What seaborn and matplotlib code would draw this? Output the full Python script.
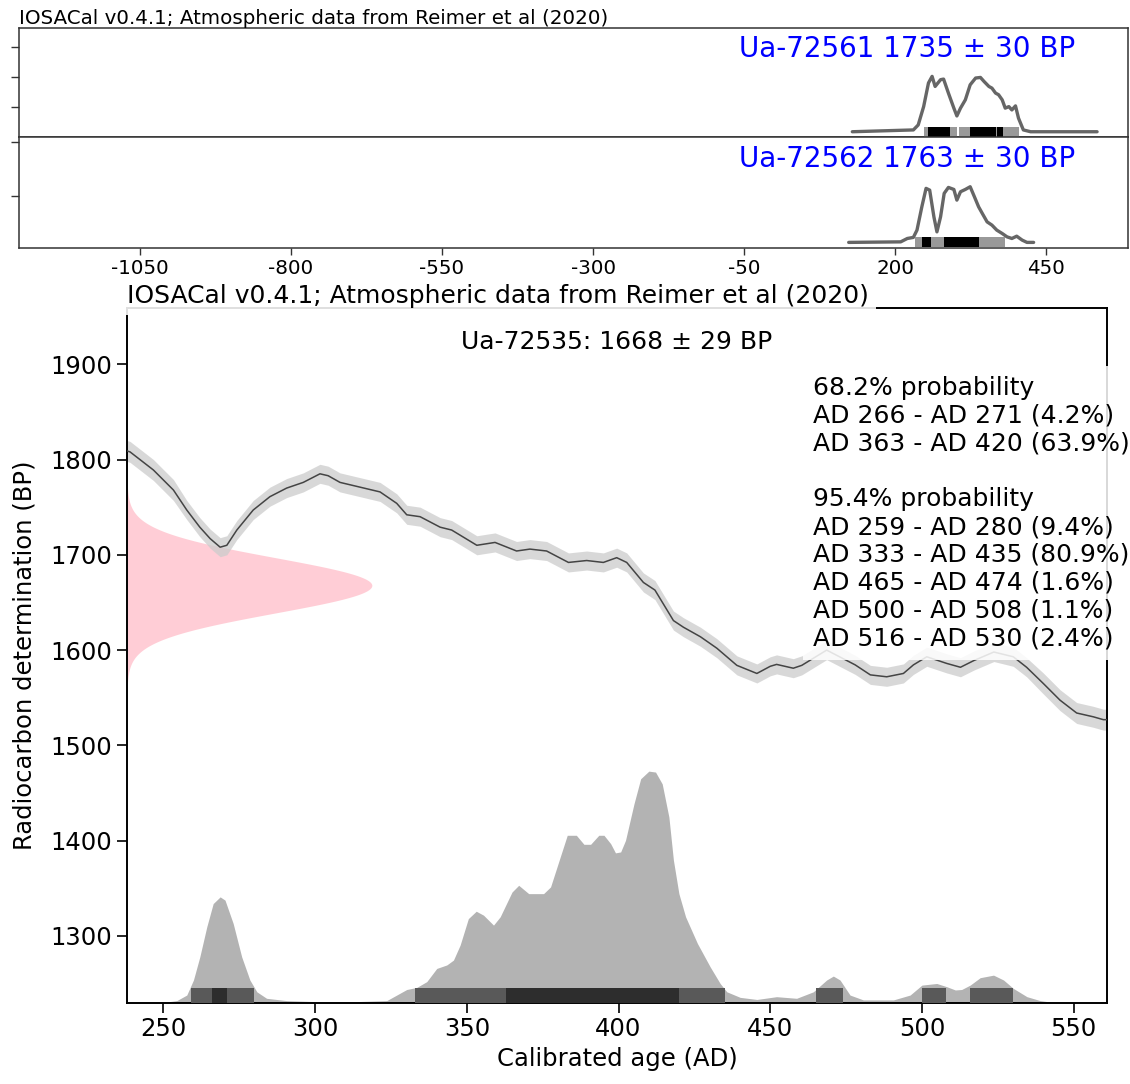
import numpy as np
import matplotlib
matplotlib.use("Agg")
import matplotlib.pyplot as plt
import seaborn as sns

sns.set_theme(style="ticks")
plt.rcParams["font.family"] = ["DejaVu Sans"]
plt.rcParams["axes.unicode_minus"] = False
plt.rcParams["text.color"] = "black"
plt.rcParams["axes.labelcolor"] = "black"
plt.rcParams["xtick.color"] = "black"
plt.rcParams["ytick.color"] = "black"

TITLE = "IOSACal v0.4.1; Atmospheric data from Reimer et al (2020)"

# ---------------- multi-date panels ----------------
dates_multi = ["Ua-72561", "Ua-72562"]
ages_multi = [1735, 1763]
errors_multi = [30, 30]

ua72561_years = [129, 230, 238, 247, 255, 261, 266, 275, 280, 288, 297, 302, 308,
                 316, 324, 333, 341, 347, 355, 360, 366, 371, 377, 382, 388, 393,
                 399, 404, 412, 424, 534]
ua72561_prob = [0.00037, 0.00049, 0.00082, 0.00204, 0.00361, 0.00405, 0.00338,
                0.00383, 0.00387, 0.00294, 0.00194, 0.00142, 0.00194, 0.00249,
                0.00349, 0.00394, 0.00398, 0.00371, 0.00338, 0.00327, 0.00294,
                0.00283, 0.00249, 0.00194, 0.00204, 0.00182, 0.00209, 0.00127,
                0.00049, 0.00037, 0.00037]
ua72561_95 = [(248, 302), (305, 404)]
ua72561_68 = [(254, 290), (323, 367), (368, 378)]

ua72562_years = [123, 209, 220, 230, 236, 244, 251, 257, 264, 269, 275, 281, 288,
                 297, 302, 308, 316, 324, 331, 338, 344, 352, 360, 368, 377, 385,
                 393, 401, 410, 418, 429]
ua72562_prob = [0.00055, 0.00059, 0.00084, 0.00092, 0.00146, 0.00318, 0.00455,
                0.00442, 0.00244, 0.00133, 0.00244, 0.00418, 0.00462, 0.00447,
                0.00368, 0.00430, 0.00447, 0.00467, 0.00393, 0.00318, 0.00270,
                0.00207, 0.00183, 0.00146, 0.00121, 0.00096, 0.00084, 0.00101,
                0.00072, 0.00055, 0.00055]
ua72562_95 = [(233, 381)]
ua72562_68 = [(245, 260), (280, 338)]

multi_xticks = [-1050, -800, -550, -300, -50, 200, 450]

# ---------------- single calibration ----------------
sample = "Ua-72535"
c14_age = 1668
c14_err = 29

# IntCal20 atmospheric curve (AD, BP, 1 sigma)
curve_year = [238, 239, 246.7, 253.3, 257.7, 262, 265.4, 268.7, 270.9, 274.2, 279.6,
              285.1, 290.6, 296.1, 301.6, 304.3, 308.2, 314.8, 321.4, 326.9, 330.2,
              334.6, 341.2, 345, 353.3, 359.3, 366.4, 370.8, 376.3, 383.5, 389.5,
              395, 399.4, 402.7, 408.2, 412, 418.1, 421.4, 427, 432.4, 439, 445.6,
              450, 452.1, 457.6, 460.4, 468.6, 478, 483, 488.4, 493.9, 497.2,
              501.6, 508.2, 512.7, 517.1, 523.7, 530.1, 534.5, 540, 545.5, 551,
              556.5, 559.8, 561]
curve_bp = [1809, 1808, 1789, 1768, 1747, 1729, 1717, 1708, 1710, 1726, 1747,
            1761, 1770, 1776, 1785, 1783, 1776, 1771, 1766, 1754, 1742,
            1740, 1729, 1726, 1710, 1713, 1704, 1706, 1704, 1692, 1694,
            1692, 1697, 1692, 1671, 1663, 1631, 1624, 1614, 1602, 1584, 1575.5,
            1583, 1585, 1581, 1584, 1600, 1584.5, 1574, 1572, 1575.5, 1584.5,
            1593, 1586, 1582, 1589, 1598, 1593, 1582, 1565, 1547.5, 1534,
            1530, 1527, 1527]
curve_sigma = [11, 11, 11, 11, 10, 10, 10, 10, 10, 10, 10,
               10, 10, 10, 10, 10, 10, 10, 10, 10, 10,
               10, 10, 10, 10, 10, 10, 10, 10, 10, 10,
               10, 10, 10, 10, 10, 10, 10, 10, 10, 10, 10,
               10, 10, 10, 10, 10, 10, 10, 10, 10, 10,
               10, 10, 10, 10, 10, 10, 10, 11, 11, 11,
               11, 11, 11]

# calibrated probability, relative to the highest point
cal_year = [239, 250, 254.4, 257.7, 259.9, 262, 264.3, 266.4, 268.7, 270.3, 273,
            275.8, 278.5, 280.8, 284, 290.6, 301.6, 312, 323.6, 326.9, 330.2,
            333.5, 336.8, 340.1, 343.4, 345.6, 347.8, 350.5, 353.1, 355.5, 358.8,
            361, 364.9, 367.1, 370.4, 375.3, 377.6, 383.1, 386.1, 388.6, 390.8,
            393.5, 395.2, 397.4, 399, 400.7, 402.3, 405.1, 407.3, 410, 412.2,
            414.4, 416.6, 418.1, 419.9, 422.1, 426, 430.2, 433.5, 435.7, 440.1,
            445.6, 452.1, 458.7, 464.2, 468.6, 470.8, 473, 476.3, 480.7, 490.6,
            496.1, 500, 504.9, 508.2, 511, 513.1, 515.9, 519.2, 523.6, 526.9,
            530.1, 534.6, 539, 543.3, 550, 561]
cal_prob = [0.0, 0.001, 0.009, 0.033, 0.098, 0.198, 0.328, 0.428, 0.457, 0.443, 0.342,
            0.198, 0.098, 0.047, 0.019, 0.009, 0.004, 0.004, 0.009, 0.033, 0.057,
            0.066, 0.091, 0.148, 0.163, 0.184, 0.249, 0.363, 0.395, 0.378, 0.335,
            0.371, 0.478, 0.507, 0.471, 0.471, 0.500, 0.723, 0.723, 0.684, 0.684,
            0.723, 0.723, 0.687, 0.647, 0.651, 0.701, 0.859, 0.967, 1.000, 0.996,
            0.945, 0.802, 0.615, 0.471, 0.371, 0.256, 0.155, 0.083, 0.047, 0.023,
            0.014, 0.026, 0.019, 0.047, 0.098, 0.115, 0.098, 0.033, 0.012, 0.012,
            0.033, 0.076, 0.083, 0.069, 0.055, 0.057, 0.076, 0.108, 0.119, 0.098,
            0.062, 0.026, 0.009, 0.001, 0.0, 0.0]

hpd68 = [(266, 271, 4.2), (363, 420, 63.9)]
hpd95 = [(259, 280, 9.4), (333, 435, 80.9), (465, 474, 1.6), (500, 508, 1.1),
         (516, 530, 2.4)]

main_xticks = [250, 300, 350, 400, 450, 500, 550]
main_yticks = [1300, 1400, 1500, 1600, 1700, 1800, 1900]

# ---------------- figure ----------------
fig = plt.figure(figsize=(11.3, 10.84), dpi=100)
ax1 = fig.add_axes([0.01681, 0.87334, 0.98186, 0.10129])
ax2 = fig.add_axes([0.01681, 0.77140, 0.98186, 0.10194])
ax = fig.add_axes([0.11239, 0.07500, 0.86726, 0.64087])
ax.set_zorder(1)
ax1.set_zorder(2)
ax2.set_zorder(2)

panels = [
    (ax1, ua72561_years, ua72561_prob, ua72561_95, ua72561_68, (0.00004, 0.00067),
     (0.0, 0.0073), [0.002, 0.004, 0.006]),
    (ax2, ua72562_years, ua72562_prob, ua72562_95, ua72562_68, (0.00018, 0.00074),
     (0.00015, 0.00833), [0.004, 0.008]),
]
for i, (a, yrs, prob, r95, r68, bar, ylim, yt) in enumerate(panels):
    sns.lineplot(x=yrs, y=prob, ax=a, color="#666666", linewidth=2.4, zorder=2)
    a.broken_barh([(s, e - s) for s, e in r95], bar, facecolors="#999999",
                  edgecolor="none", zorder=3)
    a.broken_barh([(s, e - s) for s, e in r68], bar, facecolors="black",
                  edgecolor="none", zorder=4)
    a.text(0.952, 0.728, f"{dates_multi[i]} {ages_multi[i]} \u00b1 {errors_multi[i]} BP",
           transform=a.transAxes, ha="right", va="baseline", color="blue", fontsize=20)
    a.set_xlim(-1250, 586)
    a.set_ylim(*ylim)
    a.set_yticks(yt)
    a.set_xticks(multi_xticks)
    a.tick_params(axis="y", labelleft=False, length=6, width=1.0, color="#333333")
    for s in a.spines.values():
        s.set_color("#333333")
        s.set_linewidth(1.1)
    a.set_xlabel("")
    a.set_ylabel("")

ax1.tick_params(axis="x", bottom=False, labelbottom=False)
ax2.tick_params(axis="x", length=5, width=1.0, color="#333333", labelsize=14.3, pad=3)
ax2.set_xticklabels([str(t) for t in multi_xticks])
ax1.set_title(TITLE, loc="left", fontsize=14.3, pad=2)

# calibration curve band and line
cy = np.array(curve_year)
cb = np.array(curve_bp)
cs = np.array(curve_sigma)
ax.fill_between(cy, cb - cs, cb + cs, color="#cccccc", alpha=0.75, linewidth=0, zorder=2)
sns.lineplot(x=curve_year, y=curve_bp, ax=ax, color="#444444", linewidth=1.1, zorder=3)

# radiocarbon determination as a normal distribution on the BP axis
ymin, ymax = 1230, 1959
xmin, xmax = 238, 561
bp_grid = np.linspace(ymin, ymax, 800)
gauss = np.exp(-0.5 * ((bp_grid - c14_age) / c14_err) ** 2)
ax.fill_betweenx(bp_grid, xmin, xmin + gauss * 80.7, color="pink", alpha=0.78,
                 linewidth=0, zorder=1)

# calibrated distribution
prob_height = 243
ax.fill_between(cal_year, ymin, ymin + np.array(cal_prob) * prob_height,
                color="#b3b3b3", linewidth=0, zorder=2)
bar_h = 15
ax.broken_barh([(s, e - s) for s, e, _ in hpd95], (ymin, bar_h),
               facecolors="#595959", edgecolor="none", zorder=3)
ax.broken_barh([(s, e - s) for s, e, _ in hpd68], (ymin, bar_h),
               facecolors="#2d2d2d", edgecolor="none", zorder=4)

ax.set_xlim(xmin, xmax)
ax.set_ylim(ymin, ymax)
ax.set_xticks(main_xticks)
ax.set_yticks(main_yticks)
ax.tick_params(axis="both", labelsize=17.5, length=7, width=1.2, color="black")
for s in ax.spines.values():
    s.set_color("black")
    s.set_linewidth(1.4)
ax.set_xlabel("Calibrated age (AD)", fontsize=17.5)
ax.set_ylabel("Radiocarbon determination (BP)", fontsize=17.5, labelpad=10)

ax.text(0.5, 0.941, f"{sample}: {c14_age} \u00b1 {c14_err} BP", transform=ax.transAxes,
        ha="center", va="baseline", fontsize=18, zorder=6)

lines = ["68.2% probability"]
lines += [f"AD {s} - AD {e} ({p}%)" for s, e, p in hpd68]
lines += ["", "95.4% probability"]
lines += [f"AD {s} - AD {e} ({p}%)" for s, e, p in hpd95]
ax.text(0.700, 0.902, "\n".join(lines), transform=ax.transAxes, ha="left",
        va="top", fontsize=18, linespacing=1.2, zorder=6,
        bbox=dict(boxstyle="square,pad=0.4", facecolor="white", alpha=0.85,
                  edgecolor="none"))

ax.set_title(TITLE, loc="left", fontsize=18, pad=3, zorder=6,
             bbox=dict(boxstyle="square,pad=0.3", facecolor="white", alpha=0.88,
                       edgecolor="none"))

fig.savefig("out.png", dpi=100)
